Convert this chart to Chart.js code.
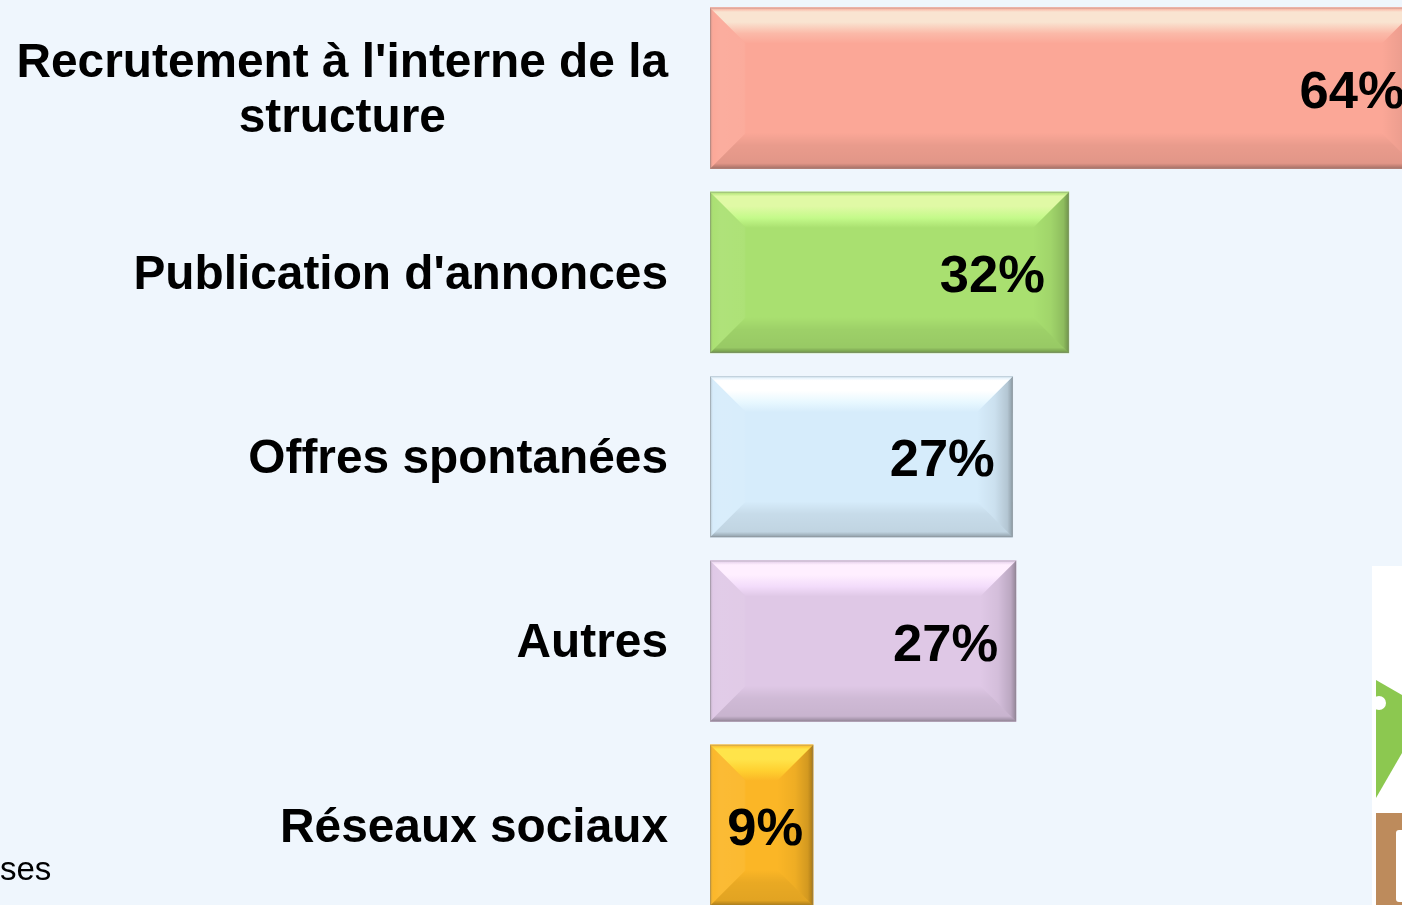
<!DOCTYPE html>
<html>
<head>
<meta charset="utf-8">
<title>Recrutement</title>
<script src="https://cdn.jsdelivr.net/npm/chart.js@4/dist/chart.umd.min.js"></script>
<style>
  html, body { margin: 0; height: 100%; overflow: hidden; background: #eff6fd; }
  #chart { position: absolute; left: 0; top: -20px; }
  #note { position: absolute; left: 0; top: 850px; font: 33px "Liberation Sans", Arial, sans-serif; color: #000; }
  #deco { position: absolute; left: 1372px; top: 566px; }
</style>
</head>
<body>
<canvas id="chart" width="1500" height="960"></canvas>
<div id="note">ses</div>
<svg id="deco" width="30" height="339">
  <rect width="30" height="339" fill="#fff"/>
  <polygon points="4,114 30,129 30,187 4,232" fill="#8cc850"/>
  <circle cx="7" cy="137" r="7" fill="#fff"/>
  <rect x="4" y="247" width="26" height="92" fill="#bd8b5c"/>
  <rect x="24" y="264" width="10" height="72" rx="3" fill="#fff"/>
</svg>
<script>
const categories = [
  ["Recrutement à l'interne de la", 'structure'],
  ["Publication d'annonces"],
  ['Offres spontanées'],
  ['Autres'],
  ['Réseaux sociaux'],
];
const values = [63.1, 32, 27, 27.3, 9.2];
const valueLabels = ['64%', '32%', '27%', '27%', '9%'];

const barColors = ['#fba797', '#a9e070', '#d6ecfb', '#dfc8e6', '#fbb626'];
const topGlow = ['#f9e4d1', '#e0f9a5', '#ffffff', '#ffefff', '#ffe44a'];
const topSoft = ['#fbb9a8', '#c4fa8a', '#e8f8ff', '#f3dcfb', '#ffd030'];
const labelInset = [13, 24, 18, 18, 10];
const bevel = 36;

function fillPoly(ctx, pts, fill) {
  ctx.beginPath();
  pts.forEach((p, i) => (i ? ctx.lineTo(p[0], p[1]) : ctx.moveTo(p[0], p[1])));
  ctx.closePath();
  ctx.fillStyle = fill;
  ctx.fill();
}

function ramp(ctx, x0, y0, x1, y1, stops) {
  const g = ctx.createLinearGradient(x0, y0, x1, y1);
  stops.forEach((s) => g.addColorStop(s[0], s[1]));
  return g;
}

const bevelPlugin = {
  id: 'bevel',
  afterDatasetsDraw(chart) {
    const ctx = chart.ctx;
    const yScale = chart.scales.y;
    ctx.save();
    chart.getDatasetMeta(0).data.forEach((bar, i) => {
      const l = bar.base;
      const r = bar.x;
      const t = bar.y - bar.height / 2;
      const b = bar.y + bar.height / 2;

      fillPoly(ctx, [[l, t], [l + bevel, t + bevel], [l + bevel, b - bevel], [l, b]],
        ramp(ctx, l, 0, l + bevel, 0, [
          [0, 'rgba(0,0,0,0.22)'], [0.1, 'rgba(255,255,255,0.02)'],
          [0.3, 'rgba(255,255,255,0.07)'], [0.95, 'rgba(255,255,255,0.05)'], [1, 'rgba(255,255,255,0)'],
        ]));
      fillPoly(ctx, [[r, t], [r - bevel, t + bevel], [r - bevel, b - bevel], [r, b]],
        ramp(ctx, r - bevel, 0, r, 0, [
          [0, 'rgba(0,0,0,0)'], [0.5, 'rgba(0,0,0,0.05)'], [0.85, 'rgba(0,0,0,0.16)'], [1, 'rgba(0,0,0,0.34)'],
        ]));
      fillPoly(ctx, [[l, t], [r, t], [r - bevel, t + bevel], [l + bevel, t + bevel]],
        ramp(ctx, 0, t, 0, t + bevel, [
          [0, barColors[i]], [0.12, topGlow[i]], [0.4, topGlow[i]], [0.72, topSoft[i]], [1, barColors[i]],
        ]));
      fillPoly(ctx, [[l, b], [r, b], [r - bevel, b - bevel], [l + bevel, b - bevel]],
        ramp(ctx, 0, b - bevel, 0, b, [
          [0, 'rgba(0,0,0,0)'], [0.35, 'rgba(0,0,0,0.07)'], [0.85, 'rgba(0,0,0,0.1)'], [1, 'rgba(0,0,0,0.34)'],
        ]));

      ctx.strokeStyle = 'rgba(140,140,140,0.35)';
      ctx.lineWidth = 1;
      ctx.strokeRect(l + 0.5, t + 0.5, r - l - 1, b - t - 1);

      ctx.fillStyle = '#000';
      ctx.textBaseline = 'middle';
      ctx.textAlign = 'right';
      ctx.font = 'bold 52.5px "Liberation Sans", Arial, sans-serif';
      ctx.fillText(valueLabels[i], r - labelInset[i], bar.y + 5);
    });

    // category labels: right aligned block, lines centred inside it
    ctx.font = 'bold 47.8px "Liberation Sans", Arial, sans-serif';
    const rightEdge = chart.chartArea.left - 42;
    categories.forEach((lines, i) => {
      const cy = yScale.getPixelForTick(i);
      const blockW = Math.max(...lines.map((s) => ctx.measureText(s).width));
      lines.forEach((s, n) => {
        ctx.textAlign = 'center';
        ctx.fillText(s, rightEdge - blockW / 2, cy + 3 + (n - (lines.length - 1) / 2) * 55);
      });
    });
    ctx.restore();
  },
};

new Chart(document.getElementById('chart'), {
  type: 'bar',
  data: {
    labels: categories.map((c) => c.join(' ')),
    datasets: [
      {
        data: values,
        backgroundColor: barColors,
        borderWidth: 0,
        barThickness: 161,
      },
    ],
  },
  options: {
    indexAxis: 'y',
    responsive: false,
    animation: false,
    layout: { padding: { left: 710, right: 5, top: 16, bottom: 22.5 } },
    scales: {
      x: { display: false, min: 0, max: 70 },
      y: { display: false },
    },
    plugins: {
      legend: { display: false },
      tooltip: { enabled: false },
    },
  },
  plugins: [bevelPlugin],
});
</script>
</body>
</html>
